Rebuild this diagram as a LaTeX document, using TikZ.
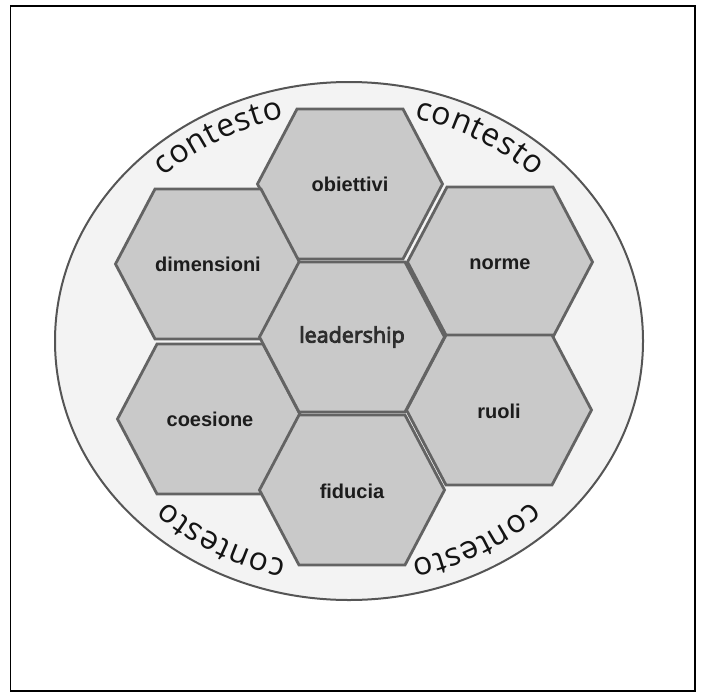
\documentclass[tikz,border=0pt]{standalone}
\usepackage{fontspec}
\usetikzlibrary{decorations.text}
\newfontfamily\labelfont{Liberation Sans}
\newfontfamily\leadfont[FakeBold=4]{Open Sans}
\newfontfamily\ctxfont{Open Sans}
\definecolor{ctxin}{HTML}{F3F3F3}
\definecolor{ctxout}{HTML}{E2E2E2}
\definecolor{ctxline}{HTML}{555555}
\definecolor{cellfill}{HTML}{C9C9C9}
\definecolor{cellline}{HTML}{636363}
\definecolor{labelink}{HTML}{1C1C1C}
\definecolor{leadink}{HTML}{2E2E2E}
\pgfdeclareradialshading{ctxshade}{\pgfpoint{0bp}{0bp}}{color(0bp)=(ctxin); color(28bp)=(ctxin); color(50bp)=(ctxout)}

\begin{document}
\begin{tikzpicture}[x=1pt,y=-1pt,
  cell/.style={fill=cellfill, draw=cellline, line width=2.8pt, line join=miter},
  celltext/.style={font=\labelfont\bfseries\fontsize{20}{24}\selectfont, text=labelink},
  leadtext/.style={font=\leadfont\fontsize{21.5}{26}\selectfont, text=leadink},
  ctxpath/.style={decorate, decoration={text effects along path,
      text={contesto}, text align=center,
      text effects/.cd, text along path,
      character widths={font=\ctxfont\fontsize{32}{38}\selectfont, inner xsep=0.4pt},
      characters={font=\ctxfont\fontsize{32}{38}\selectfont, text=black!92}}}]

\useasboundingbox (0,0) rectangle (703,693);

% outer frame
\draw[line width=1.4pt] (10.5,6) rectangle (695,691);

% context ellipse
\coordinate (C) at (349,341);
\shadedraw[shading=ctxshade, draw=ctxline, line width=2pt] (C) ellipse [x radius=294, y radius=259];

% "contesto" written four times along the ellipse, clockwise
\foreach \ang/\radx/\rady in {240/264/230, 300/264/230, 60/259/226, 120/259/226}
  \path[ctxpath] ([shift={(C)}]{\ang-30}:{\radx} and {\rady})
    arc[start angle=\ang-30, end angle=\ang+30, x radius=\radx, y radius=\rady];

% honeycomb cells
\foreach \n/\x/\y in {obiettivi/350/184, dimensioni/208/264, norme/500/262,
                      coesione/210/419, ruoli/499/410, fiducia/352/490, leadership/352/337}
  \draw[cell, shift={(\x,\y)}] (-92.5,0) -- (-53,-75) -- (53,-75) -- (92.5,0)
                               -- (53,75) -- (-53,75) -- cycle;

\node[celltext] (obiettivi)  at (350,184) {obiettivi};
\node[celltext] (dimensioni) at (208,264) {dimensioni};
\node[celltext] (norme)      at (500,264) {norme};
\node[celltext] (coesione)   at (210,419) {coesione};
\node[celltext] (ruoli)      at (499,411) {ruoli};
\node[celltext] (fiducia)    at (352,491) {fiducia};
\node[leadtext] (leadership) at (352,337) {leadership};

\end{tikzpicture}
\end{document}
